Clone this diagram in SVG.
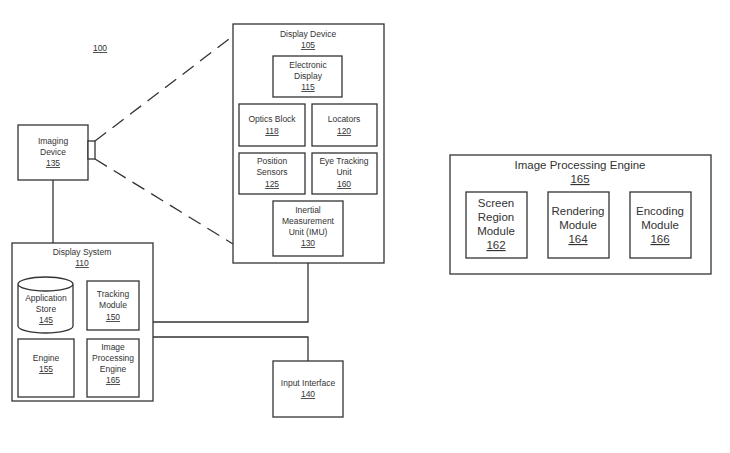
<svg xmlns="http://www.w3.org/2000/svg" width="730" height="453" viewBox="0 0 730 453">
<style>
rect,path.c{fill:#fff;stroke:#333;stroke-width:1.3}
line,polyline{stroke:#333;stroke-width:1.3;fill:none}
text{font-family:"Liberation Sans",Arial,sans-serif;font-size:8.5px;fill:#333;text-anchor:middle}
.b{font-size:11.5px}
.u{text-decoration:underline}
</style>
<rect x="0" y="0" width="730" height="453" style="fill:#fff;stroke:none"/>
<text x="100" y="51" class="u">100</text>
<g id="connectors">
<line x1="95" y1="141" x2="233" y2="36" stroke-dasharray="14,8"/>
<line x1="95" y1="159" x2="233" y2="244" stroke-dasharray="14,8"/>
<line x1="53" y1="180" x2="53" y2="243"/>
<polyline points="308,263 308,322 153,322"/>
<polyline points="153,337 308,337 308,361"/>
</g>
<g id="display-device">
<rect x="233" y="24" width="151" height="239"/>
<text x="308" y="37">Display Device</text><text x="308" y="48" class="u">105</text>
</g>
<g id="electronic-display"><rect x="273" y="56" width="69" height="41"/><text x="308" y="68">Electronic</text><text x="308" y="79">Display</text><text x="308" y="90" class="u">115</text></g>
<g id="optics"><rect x="239" y="104" width="66" height="42"/><text x="272" y="122">Optics Block</text><text x="272" y="134" class="u">118</text></g>
<g id="locators"><rect x="312" y="104" width="65" height="42"/><text x="344" y="122">Locators</text><text x="344" y="134" class="u">120</text></g>
<g id="position"><rect x="239" y="153" width="66" height="41"/><text x="272" y="164">Position</text><text x="272" y="175">Sensors</text><text x="272" y="187" class="u">125</text></g>
<g id="eye"><rect x="312" y="153" width="65" height="41"/><text x="344" y="164">Eye Tracking</text><text x="344" y="175">Unit</text><text x="344" y="187" class="u">160</text></g>
<g id="imu"><rect x="273" y="201" width="70" height="55"/><text x="308" y="213">Inertial</text><text x="308" y="224">Measurement</text><text x="308" y="235">Unit (IMU)</text><text x="308" y="246" class="u">130</text></g>
<g id="imaging-device"><rect x="18" y="125" width="70" height="55"/><rect x="88" y="141" width="7" height="18"/><text x="53" y="144">Imaging</text><text x="53" y="155">Device</text><text x="53" y="166" class="u">135</text></g>
<g id="display-system"><rect x="12" y="243" width="141" height="158"/><text x="82" y="255">Display System</text><text x="82" y="266" class="u">110</text></g>
<g id="app-store"><path class="c" d="M18,284 A27.5,7 0 0 1 73,284 V326 A27.5,7 0 0 1 18,326 Z M18,284 A27.5,7 0 0 0 73,284"/><text x="46" y="301">Application</text><text x="46" y="312">Store</text><text x="46" y="323" class="u">145</text></g>
<g id="tracking"><rect x="87" y="281" width="52" height="49"/><text x="113" y="297">Tracking</text><text x="113" y="308">Module</text><text x="113" y="320" class="u">150</text></g>
<g id="engine"><rect x="18" y="339" width="56" height="58"/><text x="46" y="361">Engine</text><text x="46" y="372" class="u">155</text></g>
<g id="ipe-small"><rect x="87" y="339" width="52" height="58"/><text x="113" y="350">Image</text><text x="113" y="361">Processing</text><text x="113" y="372">Engine</text><text x="113" y="383" class="u">165</text></g>
<g id="input-interface"><rect x="273" y="361" width="70" height="56"/><text x="308" y="386">Input Interface</text><text x="308" y="397" class="u">140</text></g>
<g id="ipe"><rect x="450" y="155" width="261" height="119"/><text x="580" y="169" class="b">Image Processing Engine</text><text x="580" y="183" class="b u">165</text></g>
<g id="screen-region"><rect x="466" y="192" width="61" height="66"/><text x="496" y="207" class="b">Screen</text><text x="496" y="221" class="b">Region</text><text x="496" y="235" class="b">Module</text><text x="496" y="249" class="b u">162</text></g>
<g id="rendering"><rect x="548" y="192" width="61" height="66"/><text x="578" y="215" class="b">Rendering</text><text x="578" y="229" class="b">Module</text><text x="578" y="243" class="b u">164</text></g>
<g id="encoding"><rect x="630" y="192" width="61" height="66"/><text x="660" y="215" class="b">Encoding</text><text x="660" y="229" class="b">Module</text><text x="660" y="243" class="b u">166</text></g>
</svg>
